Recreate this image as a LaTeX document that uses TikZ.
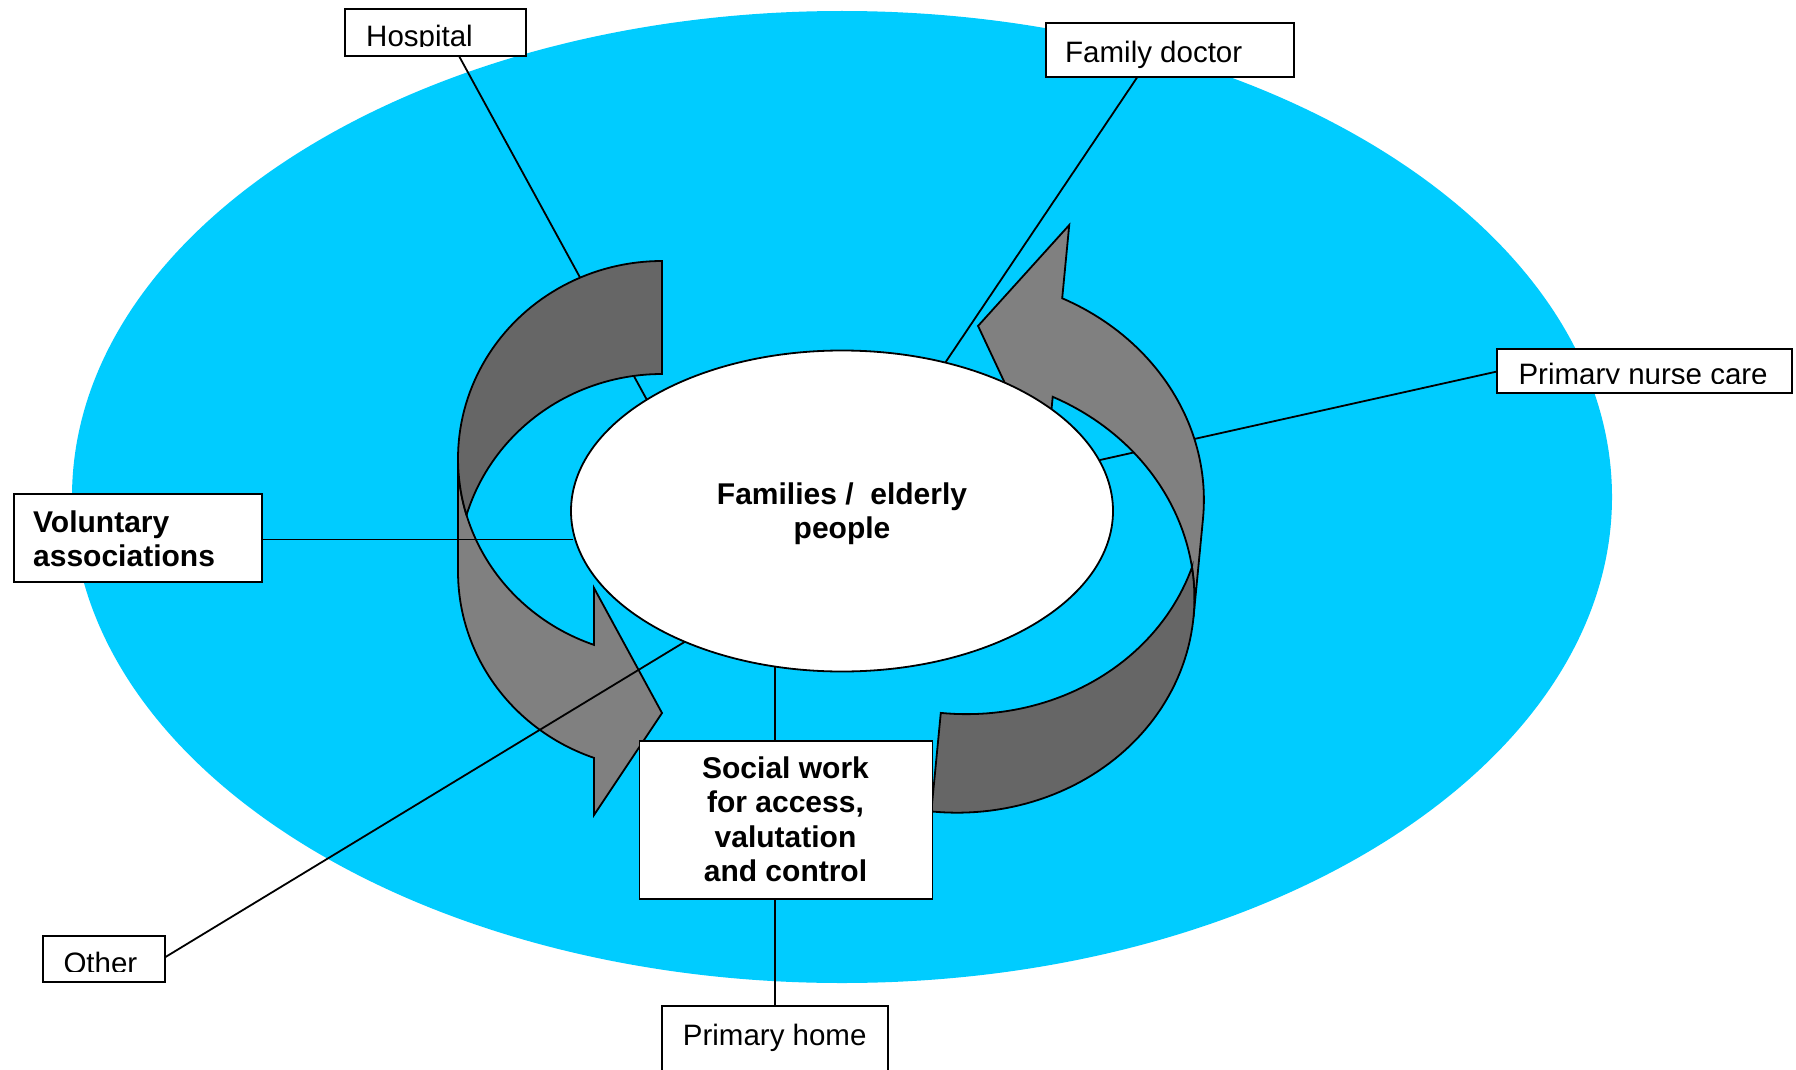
\documentclass[tikz,border=0pt]{standalone}
\usepackage{fontspec}
\setmainfont{Liberation Sans}
\usetikzlibrary{shapes.geometric}
\definecolor{skyb}{HTML}{00CCFF}
\definecolor{frontg}{HTML}{808080}
\definecolor{backg}{HTML}{666666}
\tikzset{
  lbl/.style={draw=black, line width=1.8pt, fill=white, inner sep=0pt, rectangle},
  conn/.style={draw=black, line width=1.8pt},
  txt/.style={inner sep=0pt, font=\fontsize{29.5}{34.4}\selectfont},
  btxt/.style={inner sep=0pt, font=\fontsize{30}{34.5}\selectfont\bfseries},
  frontpart/.style={fill=frontg, draw=black, line width=1.8pt, line join=miter},
  backpart/.style={fill=backg, draw=black, line width=1.8pt, line join=miter},
}
\begin{document}
\begin{tikzpicture}[x=1pt,y=-1pt]
\path[use as bounding box] (0,0) rectangle (1796,1070);
\clip (0,0) rectangle (1796,1070);
\fill[white] (0,0) rectangle (1796,1070);

% outer blue ellipse
\node[ellipse, fill=skyb, inner sep=0pt, minimum width=1540pt, minimum height=972pt] (outer) at (842,497) {};

% connectors lying under the arrows
\coordinate (hA) at (459,56);
\coordinate (hB) at (646.7,399.5);
\coordinate (fA) at (1137.4,77);
\coordinate (fB) at (945,363);
\coordinate (nA) at (1497,371.5);
\coordinate (nB) at (1100,460);
\draw[conn] (hA) -- (hB);
\draw[conn] (fA) -- (fB);
\draw[conn] (nA) -- (nB);

% left curved arrow
\draw[frontpart]
  plot[domain=180:109.47, samples=50] ({662+204*cos(\x)},{458.6+197.6*sin(\x)})
  -- (594,588) -- (662,713) -- (594,815)
  -- plot[domain=109.47:180, samples=50] ({662+204*cos(\x)},{571.6+197.6*sin(\x)})
  -- cycle;
\draw[backpart]
  plot[domain=270:163.42, samples=60] ({662+204*cos(\x)},{458.6+197.6*sin(\x)})
  -- plot[domain=196.64:270, samples=50] ({662+204*cos(\x)},{571.6+197.6*sin(\x)})
  -- cycle;

% right curved arrow
\begin{scope}[rotate around={-5.5:(1100,520)}]
\draw[frontpart]
  plot[domain=0:-70.45, samples=50] ({960+242.4*cos(\x)},{607.8+218.5*sin(\x)})
  -- (1041.1,475.5) -- (960,338.5) -- (1041.1,229.3)
  -- plot[domain=-70.45:0, samples=50] ({960+242.4*cos(\x)},{508.8+218.5*sin(\x)})
  -- cycle;
\draw[backpart]
  plot[domain=90:-13.09, samples=60] ({960+242.4*cos(\x)},{607.8+218.5*sin(\x)})
  -- plot[domain=13.09:90, samples=50] ({960+242.4*cos(\x)},{508.8+218.5*sin(\x)})
  -- cycle;
\end{scope}

% inner white ellipse
\node[ellipse, draw=black, line width=1.8pt, fill=white, inner sep=0pt, minimum width=542pt, minimum height=321pt] (fam) at (842,511) {};
\node[btxt, align=center, anchor=base] (famT) at (842,538.5) {Families /~~elderly\\people};

% connectors over the arrows
\coordinate (vA) at (262,539.5);
\coordinate (vB) at (573,539.5);
\coordinate (oA) at (165,957.3);
\coordinate (oB) at (685,641.7);
\coordinate (sA) at (775,667);
\coordinate (sB) at (775,741);
\coordinate (pA) at (775,899);
\coordinate (pB) at (775,1006);
\draw[conn] (vA) -- (vB);
\draw[conn] (oA) -- (oB);
\draw[conn] (sA) -- (sB);
\draw[conn] (pA) -- (pB);

% boxes
\node[lbl, minimum width=181pt, minimum height=47pt] (hospital) at (435.5,32.5) {};
\node[lbl, minimum width=248pt, minimum height=54pt] (famdoc) at (1170,50) {};
\node[lbl, minimum width=295pt, minimum height=44pt] (nurse) at (1644.5,371) {};
\node[lbl, minimum width=248pt, minimum height=88pt] (volunt) at (138,538) {};
\node[lbl, minimum width=122pt, minimum height=46pt] (other) at (104,959) {};
\node[lbl, minimum width=226pt, minimum height=80pt] (primhome) at (775,1046) {};
\node[lbl, minimum width=293pt, minimum height=158pt] (social) at (786,820) {};

% texts
\begin{scope}
\clip (346,10) rectangle (525,46.6);
\node[txt, anchor=base west] (hospitalT) at (366,46.3) {Hospital};
\end{scope}
\begin{scope}
\clip (1498,350) rectangle (1791,383.6);
\node[txt, anchor=base west] (nurseT) at (1518.3,384.3) {Primary nurse care};
\end{scope}
\begin{scope}
\clip (44,937) rectangle (164,971.5);
\node[txt, anchor=base west] (otherT) at (63.3,973.5) {Other};
\end{scope}
\node[txt, anchor=base west] (famdocT) at (1065,63) {Family doctor};
\node[txt, anchor=base west] (primhomeT) at (682.7,1045) {Primary home};
\node[btxt, align=left, anchor=base west] (voluntT) at (33,566.5) {Voluntary\\associations};
\node[btxt, align=center, anchor=base] (socialT) at (785.5,881.7) {Social work\\for access,\\valutation\\and control};
\end{tikzpicture}
\end{document}
